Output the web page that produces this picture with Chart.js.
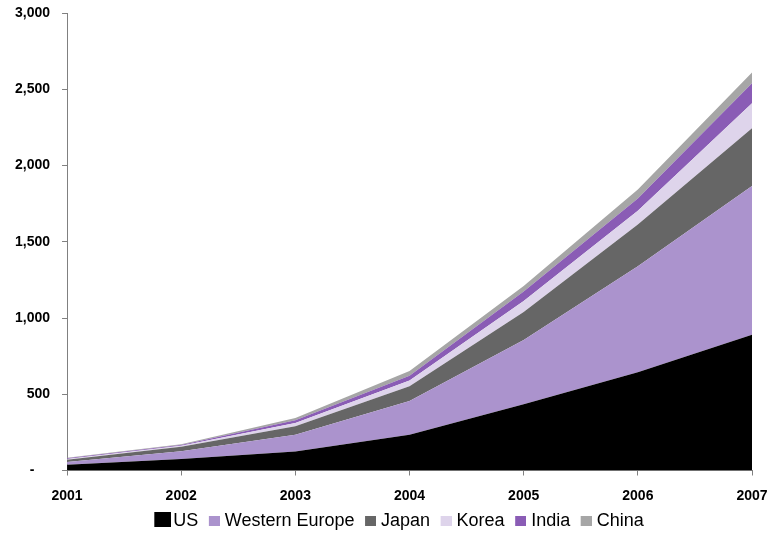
<!DOCTYPE html>
<html>
<head>
<meta charset="utf-8">
<script src="https://cdn.jsdelivr.net/npm/chart.js@4/dist/chart.umd.min.js"></script>
<style>
    html, body { margin: 0; padding: 0; background: #fff; }
    #wrap { width: 769px; height: 533px; }
</style>
</head>
<body>
<div id="wrap"><canvas id="areaChart" width="769" height="533"></canvas></div>
<script>
// Stacked area values per region, by year
const years = ['2001', '2002', '2003', '2004', '2005', '2006', '2007'];
const us = [38, 75, 125, 235, 435, 645, 890];
const westernEurope = [18, 52, 110, 220, 420, 695, 975];
const japan = [14, 28, 55, 97, 185, 273, 380];
const korea = [5, 7, 22, 38, 72, 90, 163];
const india = [5, 6, 17, 32, 62, 80, 132];
const china = [3, 4, 16, 30, 36, 60, 70];
const yTicks = [0, 500, 1000, 1500, 2000, 2500, 3000];

const series = [
    { label: 'US', data: us, color: '#000000' },
    { label: 'Western Europe', data: westernEurope, color: '#ab93cd' },
    { label: 'Japan', data: japan, color: '#666666' },
    { label: 'Korea', data: korea, color: '#ded4eb' },
    { label: 'India', data: india, color: '#8a5cb5' },
    { label: 'China', data: china, color: '#a6a6a6' }
];

// Legend swatches: a small square sitting to the right of a transparent strip,
// the first one drawn larger
function makeSwatch(color, big) {
    const c = document.createElement('canvas');
    const sq = big ? 17 : 11;
    const h = big ? 15 : 10;
    c.width = big ? 25 : 19;
    c.height = big ? 18 : 10;
    const g = c.getContext('2d');
    g.fillStyle = color;
    g.fillRect(c.width - sq, 0, sq, h);
    return c;
}

// nudge the legend row sideways after layout
const legendShift = {
    id: 'legendShift',
    afterLayout(chart) {
        if (chart.legend) {
            chart.legend.left += 21;
            chart.legend.right += 21;
        }
    }
};

const font = "'Liberation Sans', Arial, sans-serif";
const axisGrey = '#808080';

const datasets = series.map((s, i) => ({
    label: s.label,
    data: s.data,
    backgroundColor: s.color,
    borderColor: 'rgba(0,0,0,0)',
    borderWidth: 0,
    pointRadius: 0,
    pointHoverRadius: 0,
    tension: 0,
    fill: i === 0 ? 'origin' : '-1',
    swatch: makeSwatch(s.color, i === 0)
}));

new Chart(document.getElementById('areaChart'), {
    type: 'line',
    data: { labels: years, datasets: datasets },
    plugins: [legendShift],
    options: {
        responsive: false,
        animation: false,
        events: [],
        layout: { padding: { left: 3, right: 17, top: 13, bottom: -7 } },
        plugins: {
            tooltip: { enabled: false },
            legend: {
                position: 'bottom',
                labels: {
                    usePointStyle: true,
                    boxWidth: 11,
                    padding: 6.5,
                    color: '#000',
                    font: { family: font, size: 18 },
                    generateLabels: chart => chart.data.datasets.map((ds, i) => ({
                        text: ds.label,
                        fillStyle: ds.backgroundColor,
                        strokeStyle: ds.backgroundColor,
                        lineWidth: 0,
                        pointStyle: ds.swatch,
                        hidden: false,
                        datasetIndex: i
                    }))
                }
            }
        },
        scales: {
            x: {
                offset: false,
                afterFit: scale => {
                    scale.height = 35;
                    scale.paddingLeft = 0;
                    scale.paddingRight = 0;
                },
                grid: { drawOnChartArea: false, tickLength: 5, color: axisGrey },
                border: { color: axisGrey },
                ticks: {
                    color: '#000',
                    padding: 12,
                    maxRotation: 0,
                    font: { family: font, size: 14, weight: 'bold' }
                }
            },
            y: {
                stacked: true,
                min: 0,
                max: 3000,
                afterBuildTicks: scale => { scale.ticks = yTicks.map(v => ({ value: v })); },
                afterFit: scale => {
                    scale.paddingTop = 0;
                    scale.paddingBottom = 0;
                },
                grid: { drawOnChartArea: false, tickLength: 5, color: axisGrey },
                border: { color: axisGrey },
                ticks: {
                    color: '#000',
                    padding: 12,
                    font: { family: font, size: 14, weight: 'bold' },
                    callback: v => v === 0 ? '-    ' : v.toLocaleString('en-US')
                }
            }
        }
    }
});
</script>
</body>
</html>
